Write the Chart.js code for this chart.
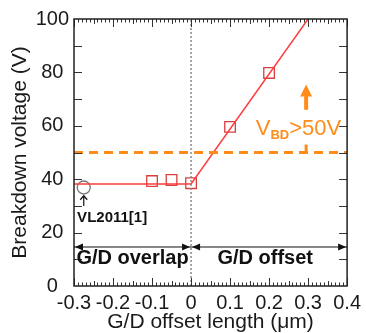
<!DOCTYPE html>
<html>
<head>
<meta charset="utf-8">
<script src="https://cdn.jsdelivr.net/npm/chart.js@4.4.0/dist/chart.umd.min.js"></script>
<style>
  html, body { margin: 0; padding: 0; background: #fff; }
</style>
</head>
<body>
<canvas id="chart" width="366" height="333"></canvas>
<script>
// --- DATA ---
const xTicks = [-0.3, -0.2, -0.1, 0, 0.1, 0.2, 0.3, 0.4];
const yTicks = [0, 20, 40, 60, 80, 100];
const measuredX = [-0.1, -0.05, 0, 0.1, 0.2];
const measuredY = [39.3, 39.7, 38.5, 59.6, 79.8];
const fitX = [-0.3, 0, 0.3];
const fitY = [38.2, 38.2, 100];
const refX = [-0.275];
const refY = [36.9];
const targetVbd = 50;

const ORANGE = '#ff8c1a';
const FONT = '"Liberation Sans", Arial, sans-serif';

function toPoints(xs, ys) {
    return xs.map((x, i) => ({ x: x, y: ys[i] }));
}

// ticks pointing into the plot, frame, arrows and labels
const decorPlugin = {
    id: 'decor',
    afterDatasetsDraw(chart) {
        const ctx = chart.ctx;
        const xs = chart.scales.x;
        const ys = chart.scales.y;
        const a = chart.chartArea;
        const px = v => xs.getPixelForValue(v);
        const py = v => ys.getPixelForValue(v);

        ctx.save();
        // inner ticks
        ctx.strokeStyle = '#333';
        ctx.lineWidth = 1;
        ctx.beginPath();
        for (let i = -30; i <= 40; i++) {
            const x = Math.round(px(i / 100)) + 0.5;
            const len = i % 10 === 0 ? 8 : (i % 5 === 0 ? 5 : 3.5);
            ctx.moveTo(x, a.bottom); ctx.lineTo(x, a.bottom - len);
            ctx.moveTo(x, a.top); ctx.lineTo(x, a.top + len);
        }
        for (let v = 10; v < 100; v += 10) {
            const y = Math.round(py(v)) + 0.5;
            ctx.moveTo(a.left, y); ctx.lineTo(a.left + 8, y);
            ctx.moveTo(a.right, y); ctx.lineTo(a.right - 8, y);
        }
        ctx.stroke();

        // frame
        ctx.strokeStyle = '#222';
        ctx.lineWidth = 1.5;
        ctx.strokeRect(a.left, a.top, a.right - a.left, a.bottom - a.top);

        // double arrows for overlap / offset regions
        const arrowY = py(14.6);
        function head(x, y, dir) {
            ctx.beginPath();
            ctx.moveTo(x, y);
            ctx.lineTo(x - dir * 8, y - 3.5);
            ctx.lineTo(x - dir * 8, y + 3.5);
            ctx.closePath();
            ctx.fill();
        }
        ctx.strokeStyle = '#111';
        ctx.fillStyle = '#111';
        ctx.lineWidth = 1.2;
        ctx.beginPath();
        ctx.moveTo(px(-0.3), arrowY); ctx.lineTo(px(0), arrowY);
        ctx.moveTo(px(0), arrowY); ctx.lineTo(px(0.4), arrowY);
        ctx.stroke();
        head(px(-0.3) + 1, arrowY, -1);
        head(px(0) - 1, arrowY, 1);
        head(px(0) + 1, arrowY, -1);
        head(px(0.4) - 1, arrowY, 1);

        ctx.font = 'bold 20px ' + FONT;
        ctx.textAlign = 'center';
        ctx.textBaseline = 'middle';
        ctx.fillText('G/D overlap', px(-0.15), py(10.2));
        ctx.fillText('G/D offset', px(0.19), py(10.2));

        // reference point label
        ctx.font = 'bold 15px ' + FONT;
        ctx.textAlign = 'left';
        ctx.fillText('VL2011[1]', px(-0.292), py(25.5));
        ctx.lineWidth = 1.2;
        ctx.beginPath();
        ctx.moveTo(px(refX[0]), py(30));
        ctx.lineTo(px(refX[0]), py(33.8));
        ctx.moveTo(px(refX[0]) - 3.5, py(32.3));
        ctx.lineTo(px(refX[0]), py(33.8));
        ctx.lineTo(px(refX[0]) + 3.5, py(32.3));
        ctx.stroke();

        // VBD > 50V target
        ctx.fillStyle = ORANGE;
        ctx.strokeStyle = ORANGE;
        ctx.textBaseline = 'alphabetic';
        let tx = px(0.166);
        const ty = py(56.6);
        ctx.font = '22px ' + FONT;
        ctx.fillText('V', tx, ty);
        tx += ctx.measureText('V').width;
        ctx.font = 'bold 13px ' + FONT;
        ctx.fillText('BD', tx, ty + 4);
        tx += ctx.measureText('BD').width;
        ctx.font = '22px ' + FONT;
        ctx.fillText('>50V', tx, ty);

        const ax = px(0.295);
        ctx.lineWidth = 4;
        ctx.beginPath();
        ctx.moveTo(ax, py(66));
        ctx.lineTo(ax, py(72));
        ctx.stroke();
        ctx.beginPath();
        ctx.moveTo(ax, py(75.5));
        ctx.lineTo(ax - 6, py(71));
        ctx.lineTo(ax + 6, py(71));
        ctx.closePath();
        ctx.fill();
        ctx.lineWidth = 3;
        ctx.beginPath();
        ctx.moveTo(ax, py(targetVbd));
        ctx.lineTo(ax, py(53));
        ctx.stroke();
        ctx.restore();
    }
};

const ctx = document.getElementById('chart').getContext('2d');
const chart = new Chart(ctx, {
    type: 'scatter',
    data: {
        datasets: [
            {
                label: 'target',
                data: toPoints([-0.3, 0.4], [targetVbd, targetVbd]),
                showLine: true,
                borderColor: ORANGE,
                borderWidth: 3,
                borderDash: [9, 6],
                pointRadius: 0
            },
            {
                label: 'boundary',
                data: toPoints([0, 0], [0, 100]),
                showLine: true,
                borderColor: '#8a8a8a',
                borderWidth: 1.5,
                borderDash: [2, 2],
                pointRadius: 0
            },
            {
                label: 'fit',
                data: toPoints(fitX, fitY),
                showLine: true,
                borderColor: '#ff3d3d',
                borderWidth: 1.5,
                pointRadius: 0
            },
            {
                label: 'measured',
                data: toPoints(measuredX, measuredY),
                showLine: false,
                pointStyle: 'rect',
                pointRadius: 7.5,
                borderColor: '#d8403f',
                borderWidth: 1.3,
                backgroundColor: 'rgba(0,0,0,0)'
            },
            {
                label: 'VL2011',
                data: toPoints(refX, refY),
                showLine: false,
                pointStyle: 'circle',
                pointRadius: 6.5,
                borderColor: '#777',
                borderWidth: 1.3,
                backgroundColor: 'rgba(0,0,0,0)'
            }
        ]
    },
    options: {
        responsive: false,
        animation: false,
        devicePixelRatio: 1,
        layout: { padding: { left: 0, top: 19, right: 18, bottom: 0 } },
        plugins: {
            legend: { display: false },
            tooltip: { enabled: false }
        },
        scales: {
            x: {
                type: 'linear',
                min: -0.3,
                max: 0.4,
                afterBuildTicks: s => { s.ticks = xTicks.map(v => ({ value: v })); },
                afterFit: s => { s.height = 47; },
                grid: { display: false, drawTicks: false },
                border: { display: false },
                ticks: {
                    autoSkip: false,
                    maxRotation: 0,
                    minRotation: 0,
                    padding: 5,
                    color: '#1a1a1a',
                    font: { family: FONT, size: 20 },
                    callback: v => String(Math.round(v * 10) / 10)
                },
                title: {
                    display: true,
                    text: 'G/D offset length (\u03bcm)',
                    color: '#1a1a1a',
                    font: { family: FONT, size: 21, lineHeight: 1 },
                    padding: { top: 0, bottom: 0 }
                }
            },
            y: {
                type: 'linear',
                min: 0,
                max: 100,
                afterBuildTicks: s => { s.ticks = yTicks.map(v => ({ value: v })); },
                afterFit: s => { s.width = 74; },
                grid: { display: false, drawTicks: false },
                border: { display: false },
                ticks: {
                    crossAlign: 'center',
                    padding: 5,
                    color: '#1a1a1a',
                    font: { family: FONT, size: 20 }
                },
                title: {
                    display: true,
                    text: 'Breakdown voltage (V)',
                    color: '#1a1a1a',
                    font: { family: FONT, size: 21, lineHeight: 1 },
                    padding: { top: 10, bottom: 0 }
                }
            }
        }
    },
    plugins: [decorPlugin]
});
</script>
</body>
</html>
